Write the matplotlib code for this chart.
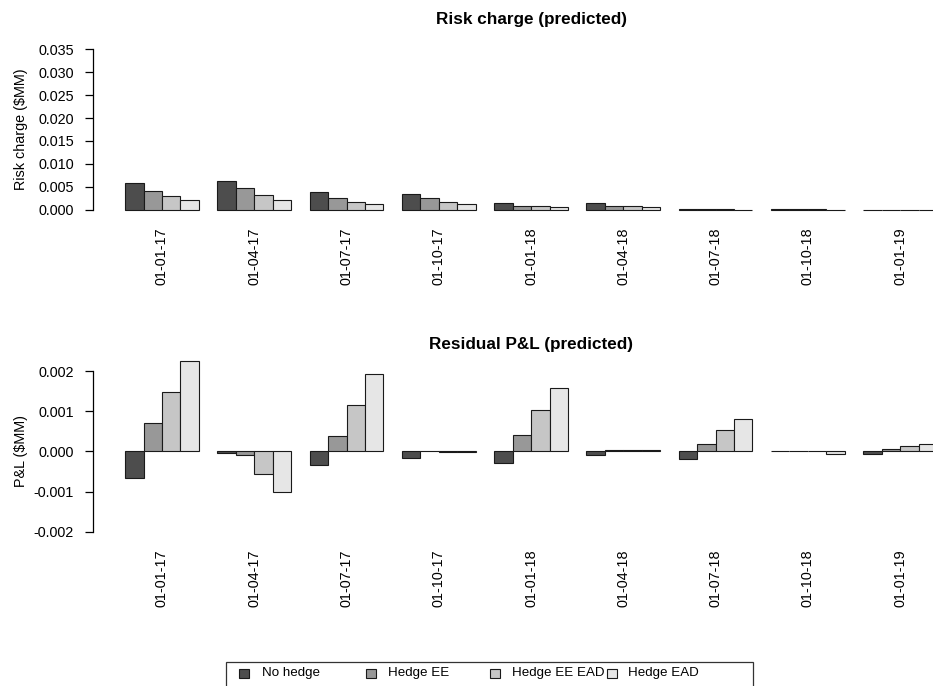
import numpy as np
import matplotlib
matplotlib.use('Agg')
import matplotlib.pyplot as plt
from matplotlib.patches import Rectangle

plt.rcParams['font.family'] = ['Liberation Sans', 'DejaVu Sans']

# quarter dates and hedge strategies
dates = ['01-01-17', '01-04-17', '01-07-17', '01-10-17', '01-01-18',
         '01-04-18', '01-07-18', '01-10-18', '01-01-19']
series = ['No hedge', 'Hedge EE', 'Hedge EE EAD', 'Hedge EAD']
colors = ['#4D4D4D', '#989898', '#C6C6C6', '#E6E6E6']

# risk charge ($MM)
risk_no_hedge = [0.0059, 0.0062, 0.0038, 0.0035, 0.0016, 0.0016, 0.0002, 0.0002, 0.00003]
risk_ee = [0.0041, 0.0047, 0.0027, 0.0027, 0.0009, 0.0009, 0.0002, 0.0002, 0.00003]
risk_ee_ead = [0.0030, 0.0033, 0.0018, 0.0018, 0.0009, 0.0009, 0.0002, 0.0002, 0.00003]
risk_ead = [0.0022, 0.0022, 0.0013, 0.0013, 0.0007, 0.0007, 0.00005, 0.00005, 0.00003]

# residual P&L ($MM)
pnl_no_hedge = [-0.00067, -0.00003, -0.00034, -0.00017, -0.00030, -0.00010, -0.00020, 0.0, -0.00007]
pnl_ee = [0.00071, -0.00010, 0.00037, 0.0, 0.00041, 0.00003, 0.00018, 0.00002, 0.00007]
pnl_ee_ead = [0.00148, -0.00057, 0.00115, -0.00002, 0.00102, 0.00003, 0.00052, 0.0, 0.00014]
pnl_ead = [0.00226, -0.00100, 0.00192, -0.00002, 0.00158, 0.00003, 0.00081, -0.00007, 0.00018]

W, H = 933, 686


def px_box(left, top, right, bottom):
    # pixel box -> figure fraction [l, b, w, h]
    return [left / W, 1 - bottom / H, (right - left) / W, (bottom - top) / H]


def grouped_bars(ax, groups, yticks, ylabels, title, ylabel, title_pad):
    n = len(groups)
    for k, vals in enumerate(groups):
        lefts = 1 + 5 * np.arange(len(vals)) + k
        ax.bar(lefts, vals, width=1, align='edge', color=colors[k],
               edgecolor='#1a1a1a', linewidth=0.8, clip_on=False)
    centers = 1 + 5 * np.arange(len(dates)) + n / 2
    ax.set_xlim(-0.76, 46.76)
    ax.set_xticks(centers)
    ax.set_xticklabels(dates, rotation=90, fontsize=10.4)
    ax.tick_params(axis='x', length=0, pad=8)
    ax.set_yticks(yticks)
    ax.set_yticklabels(ylabels, fontsize=10.4)
    ax.tick_params(axis='y', direction='out', length=5.5, width=0.9, pad=8)
    for s in ['top', 'right', 'bottom']:
        ax.spines[s].set_visible(False)
    ax.spines['left'].set_bounds(yticks[0], yticks[-1])
    ax.spines['left'].set_linewidth(0.9)
    ax.set_title(title, fontsize=12.3, fontweight='bold', pad=title_pad)
    ax.set_ylabel(ylabel, fontsize=10.4)
    ax.yaxis.set_label_coords(-0.074, 0.5)


fig = plt.figure(figsize=(W / 100, H / 100), dpi=100)

ax1 = fig.add_axes(px_box(92.6, 42.6, 969.5, 216.4))
rc_ticks = [0.0, 0.005, 0.010, 0.015, 0.020, 0.025, 0.030, 0.035]
grouped_bars(ax1, [risk_no_hedge, risk_ee, risk_ee_ead, risk_ead],
             rc_ticks, ['%.3f' % t for t in rc_ticks],
             'Risk charge (predicted)', 'Risk charge ($MM)', 13.4)
ax1.set_ylim(-0.0014, 0.0364)

ax2 = fig.add_axes(px_box(92.6, 364.6, 969.5, 538.1))
pl_ticks = [-0.002, -0.001, 0.0, 0.001, 0.002]
grouped_bars(ax2, [pnl_no_hedge, pnl_ee, pnl_ee_ead, pnl_ead],
             pl_ticks, ['%.3f' % t for t in pl_ticks],
             'Residual P&L (predicted)', 'P&L ($MM)', 11.2)
ax2.set_ylim(-0.00216, 0.00216)

# legend box along the bottom, as in the original
fig.add_artist(Rectangle((226 / W, 1 - 692 / H), (753 - 226) / W, (692 - 662) / H,
                         transform=fig.transFigure, facecolor='white',
                         edgecolor='#333333', linewidth=0.9))
sq_x = [244, 371, 494.7, 612]
txt_x = [262, 388, 512, 628]
for k, name in enumerate(series):
    fig.add_artist(Rectangle(((sq_x[k] - 5) / W, 1 - 678 / H), 10 / W, 9.5 / H,
                             transform=fig.transFigure, facecolor=colors[k],
                             edgecolor='#1a1a1a', linewidth=0.8))
    fig.text(txt_x[k] / W, 1 - 673 / H, name, fontsize=9.6, ha='left', va='center')

plt.savefig('out.png', dpi=100)
plt.close()
